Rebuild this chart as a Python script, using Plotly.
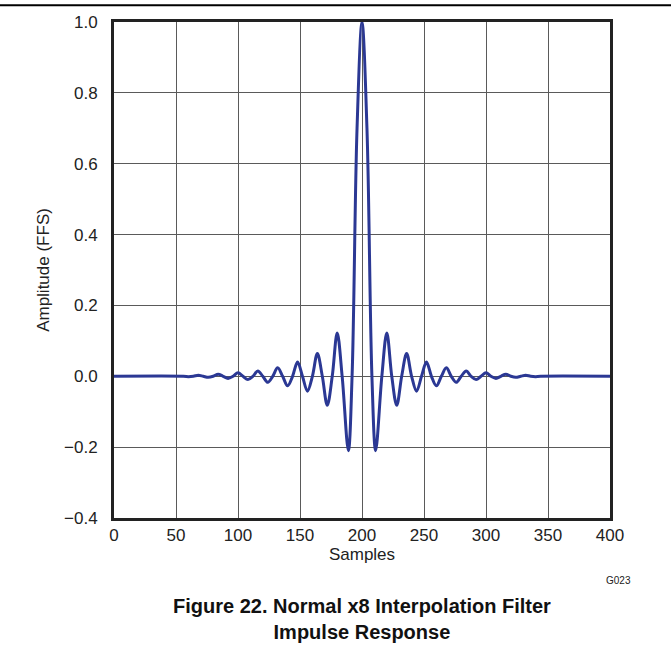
import plotly.graph_objects as go

# Values (extrema and zero crossings)
samples = [0, 56, 60, 64, 68, 72, 76, 80, 84, 88, 92, 96, 100, 104, 108, 112,
           116, 120, 124, 128, 132, 136, 140, 144, 148, 152, 156, 160, 164, 168,
           172, 176, 180, 184, 189, 192, 196, 200, 204, 208, 211, 216, 220, 224,
           228, 232, 236, 240, 244, 248, 252, 256, 260, 264, 268, 272, 276, 280,
           284, 288, 292, 296, 300, 304, 308, 312, 316, 320, 324, 328, 332, 336,
           340, 344, 400]
amplitude = [0.0, 0.0, -0.001, 0.0, 0.003, 0.0, -0.003, 0.0, 0.006, 0.0, -0.006, 0.0,
             0.010, 0.0, -0.009, 0.0, 0.015, 0.0, -0.017, 0.0, 0.024, 0.0, -0.027,
             0.0, 0.040, 0.0, -0.042, 0.0, 0.064, 0.0, -0.082, 0.0, 0.122, 0.0,
             -0.210, 0.0, 0.700, 1.0, 0.700, 0.0, -0.210, 0.0, 0.122, 0.0, -0.082,
             0.0, 0.064, 0.0, -0.042, 0.0, 0.040, 0.0, -0.027, 0.0, 0.024, 0.0,
             -0.017, 0.0, 0.015, 0.0, -0.009, 0.0, 0.010, 0.0, -0.006, 0.0, 0.006,
             0.0, -0.003, 0.0, 0.003, 0.0, -0.001, 0.0, 0.0]

x_ticks = [0, 50, 100, 150, 200, 250, 300, 350, 400]
y_ticks = [-0.4, -0.2, 0.0, 0.2, 0.4, 0.6, 0.8, 1.0]
y_tick_text = ["\u22120.4", "\u22120.2", "0.0", "0.2", "0.4", "0.6", "0.8", "1.0"]

FONT = "Liberation Sans, Arial, sans-serif"

fig = go.Figure()
fig.add_trace(go.Scatter(
    x=samples, y=amplitude, mode="lines",
    line=dict(color="#2B3894", width=3, shape="spline", smoothing=1.0),
    hoverinfo="skip", showlegend=False,
))

fig.update_layout(
    width=671, height=656,
    margin=dict(l=114, r=61, t=22, b=138),
    paper_bgcolor="white", plot_bgcolor="white",
    font=dict(family=FONT, size=17, color="#222"),
    xaxis=dict(
        range=[0, 400], tickvals=x_ticks, ticktext=[str(v) for v in x_ticks],
        showgrid=True, gridcolor="#5a5a5a", gridwidth=1,
        showline=True, linecolor="#222", linewidth=3, mirror=True,
        ticks="", zeroline=False, ticklabelstandoff=0,
        title=dict(text="Samples", font=dict(size=17), standoff=0),
    ),
    yaxis=dict(
        range=[-0.4, 1.0], tickvals=y_ticks, ticktext=y_tick_text,
        showgrid=True, gridcolor="#5a5a5a", gridwidth=1,
        showline=True, linecolor="#222", linewidth=3, mirror=True,
        ticks="", zeroline=False, ticklabelstandoff=10,
        title=dict(text="Amplitude (FFS)", font=dict(size=17), standoff=11),
    ),
    shapes=[dict(type="line", xref="paper", yref="paper",
                 x0=-0.24, x1=1.13, y0=1.034, y1=1.034,
                 line=dict(color="black", width=2))],
    annotations=[
        dict(text="G023", xref="paper", yref="paper", x=1.046, y=-0.125,
             xanchor="right", yanchor="middle", showarrow=False,
             font=dict(size=10, color="#222")),
        dict(text="<b>Figure 22. Normal x8 Interpolation Filter</b><br><b>Impulse Response</b>",
             xref="paper", yref="paper", x=0.5, y=-0.152,
             xanchor="center", yanchor="top", showarrow=False,
             font=dict(size=20, color="#111"), align="center"),
    ],
)

fig.write_html("out.html", config={"displayModeBar": False},
               post_script="document.body.style.margin='0';document.body.style.overflow='hidden';")
